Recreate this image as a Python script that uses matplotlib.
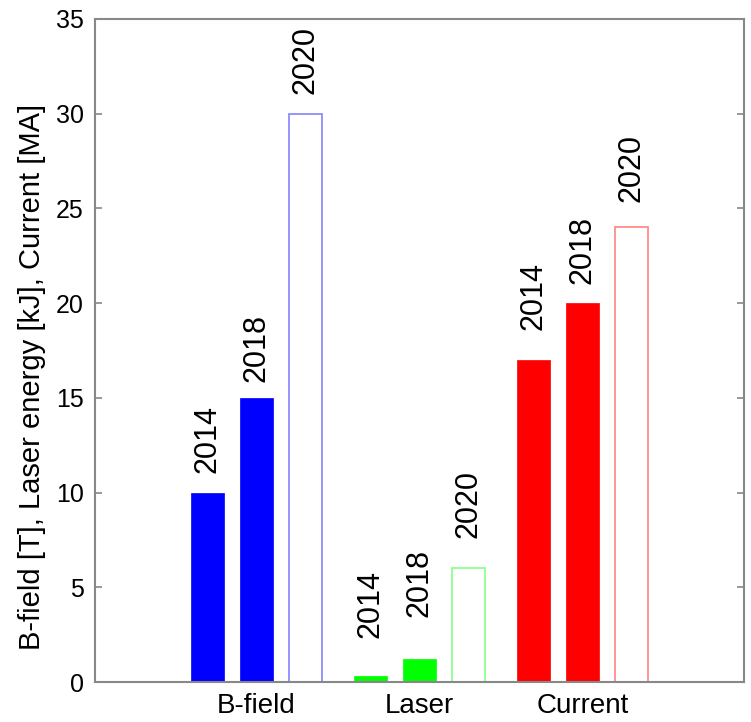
import matplotlib
matplotlib.use("Agg")
import matplotlib.pyplot as plt
import numpy as np

plt.rcParams['font.family'] = ['Liberation Sans', 'DejaVu Sans']

# Data
groups = ["B-field", "Laser", "Current"]
years = ["2014", "2018", "2020"]
bfield = [10, 15, 30]          # T
laser = [0.3, 1.2, 6]          # kJ
current = [17, 20, 24]         # MA
planned = [False, False, True]  # 2020 values are targets (open bars)

series = [bfield, laser, current]
colors = ["#0000ff", "#00ff00", "#ff0000"]
edge_light = ["#8c8cff", "#8cff8c", "#ff8c8c"]

# Label offsets above each bar top (points)
label_offsets = [[14.4, 11.5, 14.4],
                 [27.4, 30.2, 21.6],
                 [21.6, 13.7, 18.0]]

fig = plt.figure(figsize=(7.51, 7.22), dpi=100)
ax = fig.add_axes([95 / 751, 40 / 722, (744 - 95) / 751, (682 - 19) / 722])

centers = np.arange(1, len(groups) + 1)
offsets = np.array([-0.3, 0.0, 0.3])
width = 0.2

for gi, vals in enumerate(series):
    for yi, v in enumerate(vals):
        x = centers[gi] + offsets[yi]
        if planned[yi]:
            ax.bar(x, v, width, facecolor="white", edgecolor=edge_light[gi],
                   linewidth=1.3, zorder=2)
        else:
            ax.bar(x, v, width, facecolor=colors[gi], edgecolor=colors[gi],
                   linewidth=0.5, zorder=2)
        ax.annotate(years[yi], xy=(x, v), xytext=(0, label_offsets[gi][yi]),
                    textcoords="offset points", rotation=90,
                    ha="center", va="bottom", fontsize=22)

ax.set_xlim(0.01, 3.99)
ax.set_ylim(0, 35)
ax.set_yticks(np.arange(0, 36, 5))
ax.set_xticks(centers)
ax.set_xticklabels(groups, fontsize=20)
ax.tick_params(axis="x", length=0, pad=8)
ax.tick_params(axis="y", direction="in", length=5, width=1.2, color="#888888",
               labelsize=18, pad=8, right=True)
ax.set_ylabel("B-field [T], Laser energy [kJ], Current [MA]", fontsize=21)
ax.yaxis.set_label_coords(-0.075, 0.46)

for sp in ax.spines.values():
    sp.set_color("#888888")
    sp.set_linewidth(1.5)

fig.savefig("out.png", dpi=100)
